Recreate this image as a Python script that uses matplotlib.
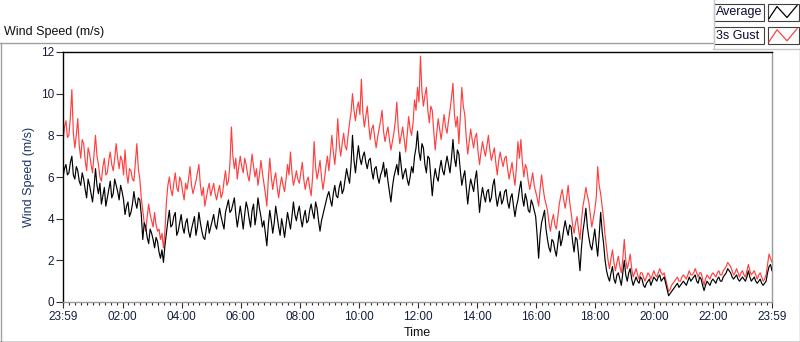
import numpy as np
import matplotlib
matplotlib.use("Agg")
import matplotlib.pyplot as plt
from matplotlib.lines import Line2D
from matplotlib.patches import Rectangle

# ---------------- data (3-minute samples) ----------------
# hours elapsed since 23:59 (0 .. 24 h)
hours = np.arange(481) * 0.05

average = [
    6.0, 6.4, 6.6, 6.1, 6.2, 6.7, 7.0, 6.1, 5.9, 6.5, 6.3, 5.8, 5.6, 6.2, 5.9, 5.4, 5.0, 5.9, 5.6, 5.2,
    4.8, 5.5, 6.4, 5.6, 5.2, 5.7, 4.7, 5.1, 5.5, 4.6, 5.0, 5.4, 5.8, 5.0, 5.2, 5.9, 5.6, 5.3, 4.9, 5.6,
    5.3, 4.9, 4.2, 4.6, 4.8, 4.1, 4.3, 4.7, 5.3, 4.8, 4.5, 5.0, 4.9, 4.2, 3.0, 3.8, 3.6, 3.1, 2.8, 3.5,
    3.3, 3.0, 2.6, 3.1, 2.9, 2.4, 2.1, 2.5, 1.9, 2.7, 3.3, 3.9, 4.4, 3.6, 3.7, 4.1, 4.3, 3.2, 3.4, 3.8,
    4.2, 3.6, 3.3, 3.8, 4.0, 3.4, 3.1, 3.5, 3.8, 4.1, 3.2, 3.6, 4.3, 3.8, 3.4, 3.1, 3.0, 3.5, 3.9, 3.3,
    3.6, 3.9, 4.2, 3.7, 3.5, 4.0, 4.5, 4.1, 3.8, 3.5, 4.3, 4.6, 4.9, 4.3, 4.4, 4.7, 5.0, 4.2, 3.6, 4.1,
    4.6, 4.1, 3.5, 4.2, 4.8, 4.5, 4.0, 3.6, 4.4, 4.7, 3.7, 4.2, 5.0, 4.5, 4.1, 3.6, 3.9, 3.3, 2.7, 3.7,
    4.4, 3.9, 3.3, 3.8, 4.6, 4.1, 3.6, 3.2, 4.0, 3.6, 3.1, 3.7, 4.3, 3.9, 3.5, 4.1, 4.8, 4.2, 3.9, 4.3,
    4.6, 4.0, 3.6, 4.1, 4.4, 3.8, 3.9, 4.4, 4.7, 4.3, 4.0, 4.8, 4.5, 3.9, 3.4, 3.9, 4.2, 4.5, 4.8, 5.1,
    5.3, 4.9, 4.6, 5.2, 5.6, 5.1, 5.0, 5.5, 5.8, 5.2, 5.4, 5.9, 6.4, 6.0, 5.7, 6.6, 8.0, 6.8, 6.2, 6.9,
    7.5, 6.9, 6.6, 7.0, 7.2, 6.7, 6.4, 6.8, 6.9, 6.3, 5.9, 6.4, 6.5, 6.0, 5.7, 6.1, 6.3, 6.7, 6.0, 6.4,
    5.8, 5.3, 4.8, 5.5, 6.0, 6.3, 6.6, 6.1, 7.2, 6.5, 5.9, 6.2, 6.4, 5.9, 5.6, 6.0, 6.5, 6.2, 7.0, 7.4,
    8.2, 7.2, 6.8, 7.6, 7.4, 6.6, 6.2, 7.0, 6.9, 6.0, 5.1, 5.9, 6.4, 6.0, 5.8, 6.4, 6.8, 6.3, 6.1, 6.6,
    7.0, 6.6, 6.2, 6.9, 7.8, 6.9, 6.5, 7.3, 7.1, 6.3, 5.6, 6.0, 6.3, 5.5, 4.7, 5.4, 5.9, 5.6, 5.3, 5.9,
    6.3, 5.3, 4.3, 5.0, 5.5, 5.1, 4.8, 5.3, 5.4, 4.8, 5.0, 5.6, 5.9, 5.1, 4.6, 5.0, 5.3, 4.7, 4.9, 5.3,
    5.4, 4.8, 4.5, 5.0, 5.2, 4.6, 4.1, 4.6, 4.9, 5.4, 5.8, 5.0, 4.6, 5.2, 4.9, 4.4, 4.3, 4.9, 4.7, 4.4,
    4.1, 3.2, 2.1, 3.2, 3.8, 4.1, 4.4, 3.5, 3.0, 2.6, 2.4, 3.0, 2.9, 2.5, 2.2, 2.8, 3.4, 2.7, 3.0, 3.5,
    3.9, 3.5, 3.2, 3.7, 3.6, 2.9, 2.4, 3.1, 3.0, 2.3, 1.5, 2.6, 3.4, 3.9, 4.5, 3.6, 3.1, 2.7, 2.5, 3.0,
    3.5, 2.8, 2.2, 3.2, 4.3, 3.4, 2.8, 2.0, 1.5, 1.2, 1.0, 1.4, 1.7, 1.1, 0.9, 1.3, 1.4, 1.1, 0.8, 1.4,
    2.0, 1.3, 1.0, 1.4, 1.6, 1.1, 0.8, 1.0, 1.2, 1.0, 0.9, 1.2, 1.1, 0.8, 0.7, 0.9, 1.0, 1.1, 0.8, 1.0,
    1.2, 1.1, 1.0, 1.2, 1.3, 1.0, 1.1, 1.2, 0.9, 0.6, 0.3, 0.4, 0.5, 0.6, 0.7, 0.8, 0.9, 0.7, 0.8, 0.9,
    1.0, 0.9, 0.8, 1.0, 1.2, 1.0, 1.1, 1.2, 1.3, 1.0, 0.9, 1.2, 1.1, 0.8, 0.55, 0.8, 1.0, 0.9, 0.8, 1.0,
    1.1, 1.0, 0.9, 1.1, 1.2, 1.0, 1.0, 1.2, 1.3, 1.4, 1.6, 1.5, 1.4, 1.2, 1.1, 1.2, 1.3, 1.1, 1.0, 1.1,
    1.2, 1.1, 1.0, 1.2, 1.5, 1.2, 1.0, 1.1, 1.2, 1.0, 0.9, 1.0, 1.1, 0.9, 0.8, 0.9, 1.0, 1.4, 1.7, 1.8,
    1.5,
]

gust = [
    7.7, 8.4, 8.7, 7.9, 8.0, 8.9, 10.2, 8.1, 7.4, 8.0, 8.8, 7.5, 6.9, 7.8, 7.6, 6.8, 6.3, 7.4, 7.1, 6.6,
    6.2, 7.1, 8.0, 7.0, 6.6, 6.0, 5.8, 6.5, 6.9, 6.1, 6.2, 6.8, 7.2, 6.6, 6.3, 6.9, 7.6, 6.9, 6.4, 7.0,
    6.8, 6.1, 7.3, 6.2, 5.7, 6.4, 6.3, 5.9, 5.8, 6.7, 7.6, 6.4, 5.9, 5.0, 4.4, 3.8, 3.4, 4.1, 4.7, 4.2,
    3.9, 3.6, 4.3, 3.7, 3.4, 3.5, 3.0, 3.3, 2.6, 3.4, 4.8, 5.6, 6.0, 5.4, 5.1, 5.7, 6.2, 5.5, 5.3, 6.0,
    5.8, 5.3, 4.9, 5.7, 5.4, 5.9, 6.5, 5.6, 5.2, 5.5, 5.8, 6.2, 6.6, 5.6, 5.1, 5.5, 4.6, 5.0, 5.4, 5.7,
    5.1, 5.4, 5.7, 5.2, 4.9, 5.3, 5.6, 5.0, 5.2, 5.8, 6.3, 5.6, 5.8, 6.6, 8.4, 7.0, 6.4, 6.9, 5.9, 6.5,
    7.0, 6.5, 6.2, 6.9, 6.6, 6.1, 5.8, 6.4, 7.1, 6.5, 6.0, 6.4, 5.6, 6.1, 6.8, 6.2, 5.7, 5.2, 4.6, 5.9,
    6.9, 6.0, 5.4, 5.9, 6.2, 5.5, 5.0, 5.6, 6.0, 5.6, 5.3, 5.9, 6.6, 6.1, 7.2, 6.2, 5.6, 5.9, 6.3, 5.9,
    5.7, 6.2, 6.7, 5.9, 5.4, 5.8, 6.0, 5.5, 5.1, 6.0, 7.7, 6.5, 5.9, 6.3, 6.8, 6.0, 5.4, 5.9, 6.5, 7.0,
    6.3, 7.1, 8.0, 7.2, 6.6, 7.4, 8.8, 7.6, 7.0, 7.6, 8.1, 7.5, 7.3, 8.0, 8.6, 9.1, 10.0, 9.2, 8.7, 9.3,
    9.6, 9.0, 10.7, 9.1, 8.4, 8.9, 9.4, 8.5, 7.8, 8.3, 8.5, 7.9, 7.4, 7.9, 8.3, 8.7, 9.2, 8.2, 7.7, 8.1,
    8.4, 7.8, 7.3, 7.7, 8.1, 8.7, 9.6, 8.3, 7.6, 8.0, 8.4, 7.8, 7.2, 8.0, 8.9, 8.3, 8.0, 8.6, 9.7, 9.2,
    10.3, 9.6, 11.8, 10.1, 9.4, 9.9, 10.3, 9.2, 8.6, 9.4, 9.2, 8.2, 7.3, 8.1, 8.8, 8.3, 7.8, 8.4, 9.0, 8.4,
    8.1, 8.7, 9.2, 9.8, 10.5, 9.0, 8.4, 8.9, 7.6, 8.9, 10.3, 9.4, 9.0, 7.9, 7.1, 7.7, 8.3, 7.8, 7.4, 7.9,
    8.1, 7.2, 6.6, 7.2, 7.7, 7.3, 7.0, 7.5, 8.0, 7.3, 6.8, 7.1, 7.4, 6.7, 6.1, 6.8, 7.2, 6.8, 6.5, 6.9,
    7.0, 6.4, 5.9, 6.3, 6.7, 6.1, 5.6, 6.5, 7.7, 6.9, 7.8, 6.7, 6.0, 6.6, 6.4, 5.8, 5.4, 5.8, 6.2, 5.6,
    5.3, 5.0, 4.6, 5.4, 6.1, 5.5, 5.0, 4.7, 4.4, 3.8, 3.4, 3.9, 4.2, 3.7, 3.5, 4.1, 4.7, 5.1, 5.4, 4.9,
    4.5, 5.0, 5.6, 4.8, 4.3, 3.7, 3.3, 3.8, 4.1, 3.5, 3.0, 3.9, 4.6, 5.0, 5.5, 5.1, 4.8, 4.2, 3.6, 4.0,
    4.4, 5.0, 6.5, 5.6, 5.2, 4.6, 4.0, 3.2, 2.6, 2.0, 1.6, 2.1, 2.5, 1.9, 1.5, 1.9, 2.2, 1.7, 1.4, 2.1,
    3.0, 2.0, 1.6, 1.9, 2.3, 1.6, 1.2, 1.4, 1.6, 1.3, 1.1, 1.4, 1.4, 1.2, 1.0, 1.2, 1.4, 1.3, 1.1, 1.3,
    1.5, 1.3, 1.2, 1.4, 1.6, 1.4, 1.3, 1.4, 1.1, 0.8, 0.5, 0.6, 0.8, 0.9, 1.0, 1.1, 1.2, 1.0, 1.0, 1.2,
    1.3, 1.2, 1.1, 1.3, 1.5, 1.3, 1.3, 1.4, 1.6, 1.4, 1.2, 1.4, 1.4, 1.1, 0.8, 1.1, 1.3, 1.2, 1.1, 1.3,
    1.4, 1.3, 1.2, 1.4, 1.5, 1.3, 1.3, 1.5, 1.6, 1.7, 1.9, 1.8, 1.7, 1.5, 1.3, 1.4, 1.6, 1.4, 1.2, 1.4,
    1.5, 1.3, 1.2, 1.5, 1.8, 1.5, 1.3, 1.4, 1.5, 1.3, 1.1, 1.3, 1.4, 1.2, 1.0, 1.1, 1.3, 1.8, 2.3, 2.1,
    1.9,
]

series_names = ["Average", "3s Gust"]
series_colors = ["#000000", "#ff4040"]
x_tick_labels = ["23:59", "02:00", "04:00", "06:00", "08:00", "10:00", "12:00",
                 "14:00", "16:00", "18:00", "20:00", "22:00", "23:59"]
y_ticks = [0, 2, 4, 6, 8, 10, 12]

# ---------------- figure ----------------
W, H = 800, 342
fig = plt.figure(figsize=(W / 100, H / 100), dpi=100)
plt.rcParams["font.family"] = ["Liberation Sans", "DejaVu Sans"]

def fx(px):
    return px / W

def fy(py):
    return 1 - py / H

ax = fig.add_axes([fx(63), fy(302), fx(772) - fx(63), fy(52) - fy(302)])

ax.plot(hours, gust, color=series_colors[1], lw=0.85, zorder=2)
ax.plot(hours, average, color=series_colors[0], lw=0.85, zorder=3)

ax.set_xlim(0, 24)
ax.set_ylim(0, 12)

major = [0] + [2 * k + 1 / 60 for k in range(1, 12)] + [24]
ax.set_xticks(major)
ax.set_xticklabels(x_tick_labels)
ax.set_xticks(np.arange(1 / 60, 24, 0.2), minor=True)
ax.set_yticks(y_ticks)
ax.set_yticklabels([str(v) for v in y_ticks])

tick_col = "#141e3c"
ax.tick_params(axis="x", which="major", length=4.5, width=0.8, color="#303030",
               labelsize=8.5, labelcolor=tick_col, pad=2)
ax.tick_params(axis="x", which="minor", length=2.5, width=0.8, color="#303030")
ax.tick_params(axis="y", which="major", length=5, width=0.8, color="#303030",
               labelsize=8.5, labelcolor=tick_col, pad=1.5)

for s in ["top", "left"]:
    ax.spines[s].set_color("#000000")
    ax.spines[s].set_linewidth(1.0)
for s in ["bottom", "right"]:
    ax.spines[s].set_color("#9a9a9a")
    ax.spines[s].set_linewidth(1.0)

ax.set_xlabel("Time", fontsize=9, color="#101010", labelpad=3)
ax.set_ylabel("Wind Speed (m/s)", fontsize=9, color="#1f3466", labelpad=4)

# ---------------- panel decorations ----------------
grey = "#a0a0a0"
def hline(y, x0, x1, c, lw=1.0):
    fig.add_artist(Line2D([fx(x0), fx(x1)], [fy(y), fy(y)], color=c, lw=lw))

def vline(x, y0, y1, c, lw=1.0):
    fig.add_artist(Line2D([fx(x), fx(x)], [fy(y0), fy(y1)], color=c, lw=lw))

hline(42.5, 0, 713, grey)
vline(0.5, 42.5, 342, grey)
hline(341.5, 0, 800, "#202020")
vline(799.5, 48, 342, grey)
vline(713.5, 0, 48, "#c8c8c8")
hline(48.5, 713, 800, "#c8c8c8")

fig.text(fx(4), fy(32), "Wind Speed (m/s)", fontsize=9, color="#101010",
         ha="left", va="center")

# legend (LabVIEW style plot legend)
for i, (name, col) in enumerate(zip(series_names, series_colors)):
    top = 4 + i * 23.3
    h = 17
    fig.add_artist(Rectangle((fx(713.5), fy(top + h)), fx(764) - fx(713.5),
                             fy(top) - fy(top + h), fill=True, fc="white",
                             ec="#404040", lw=0.8))
    fig.text(fx(715.5), fy(top + h / 2), name, fontsize=9, color="#0a0a30",
             ha="left", va="center")
    fig.add_artist(Rectangle((fx(767.5), fy(top + h)), fx(799) - fx(767.5),
                             fy(top) - fy(top + h), fill=True, fc="white",
                             ec="#404040", lw=0.8))
    zx = [769, 777, 787, 797]
    zy = [top + 14.5, top + 2.5, top + 13.5, top + 1.5]
    fig.add_artist(Line2D([fx(v) for v in zx], [fy(v) for v in zy],
                          color=col, lw=0.9))

fig.savefig("out.png", dpi=100)
